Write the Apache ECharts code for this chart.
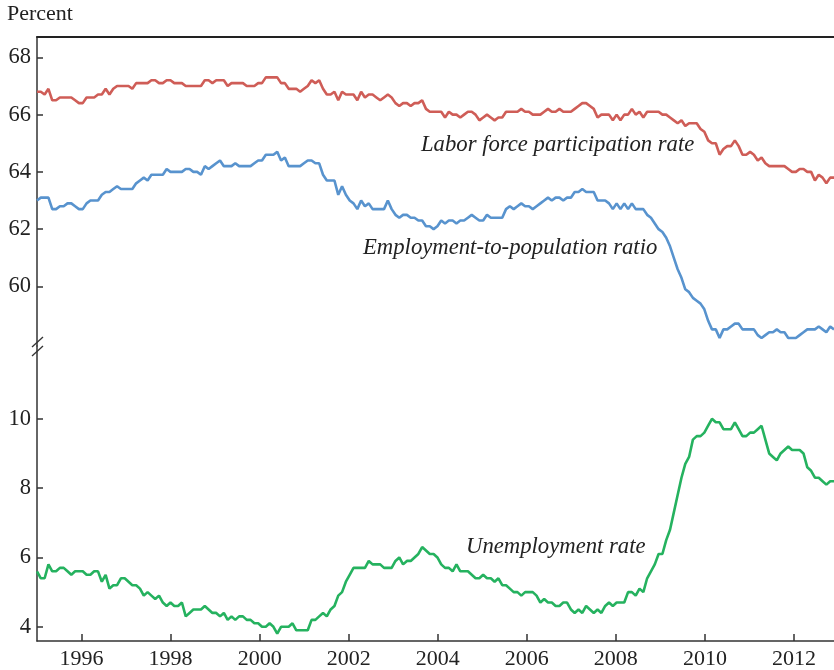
<!DOCTYPE html>
<html>
<head>
<meta charset="utf-8">
<script src="https://cdn.jsdelivr.net/npm/echarts@6/dist/echarts.min.js"></script>
<style>
  html, body { margin: 0; padding: 0; background: #fff; }
  #main { width: 834px; height: 670px; }
</style>
</head>
<body>
<div id="main"></div>
<script>
// monthly, Jan 1995 - Jun 2012
const months = [];
for (let y = 1995; y <= 2012; y++) {
  for (let m = 1; m <= 12; m++) {
    if (y === 2012 && m > 6) break;
    months.push(y + '-' + (m < 10 ? '0' + m : m));
  }
}

const laborForce = [
  66.8, 66.8, 66.7, 66.9, 66.5, 66.5, 66.6, 66.6, 66.6, 66.6, 66.5, 66.4,
  66.4, 66.6, 66.6, 66.6, 66.7, 66.7, 66.9, 66.7, 66.9, 67.0, 67.0, 67.0,
  67.0, 66.9, 67.1, 67.1, 67.1, 67.1, 67.2, 67.2, 67.1, 67.1, 67.2, 67.2,
  67.1, 67.1, 67.1, 67.0, 67.0, 67.0, 67.0, 67.0, 67.2, 67.2, 67.1, 67.2,
  67.2, 67.2, 67.0, 67.1, 67.1, 67.1, 67.1, 67.0, 67.0, 67.0, 67.1, 67.1,
  67.3, 67.3, 67.3, 67.3, 67.1, 67.1, 66.9, 66.9, 66.9, 66.8, 66.9, 67.0,
  67.2, 67.1, 67.2, 66.9, 66.7, 66.7, 66.8, 66.5, 66.8, 66.7, 66.7, 66.7,
  66.5, 66.8, 66.6, 66.7, 66.7, 66.6, 66.5, 66.6, 66.7, 66.6, 66.4, 66.3,
  66.4, 66.4, 66.3, 66.4, 66.4, 66.5, 66.2, 66.1, 66.1, 66.1, 66.1, 65.9,
  66.1, 66.0, 66.0, 65.9, 66.0, 66.1, 66.1, 66.0, 65.8, 65.9, 66.0, 65.9,
  65.8, 65.9, 65.9, 66.1, 66.1, 66.1, 66.1, 66.2, 66.1, 66.1, 66.0, 66.0,
  66.0, 66.1, 66.2, 66.1, 66.1, 66.2, 66.1, 66.1, 66.1, 66.2, 66.3, 66.4,
  66.4, 66.3, 66.2, 65.9, 66.0, 66.0, 66.0, 65.8, 66.0, 65.8, 66.0, 66.0,
  66.2, 66.0, 66.1, 65.9, 66.1, 66.1, 66.1, 66.1, 66.0, 66.0, 65.9, 65.8,
  65.7, 65.8, 65.6, 65.7, 65.7, 65.7, 65.5, 65.4, 65.1, 65.0, 65.0, 64.6,
  64.8, 64.9, 64.9, 65.1, 64.9, 64.6, 64.6, 64.7, 64.6, 64.4, 64.5, 64.3,
  64.2, 64.2, 64.2, 64.2, 64.2, 64.1, 64.0, 64.0, 64.1, 64.1, 64.0, 64.0,
  63.7, 63.9, 63.8, 63.6, 63.8, 63.8
];

const employmentRatio = [
  63.0, 63.1, 63.1, 63.1, 62.7, 62.7, 62.8, 62.8, 62.9, 62.9, 62.8, 62.7,
  62.7, 62.9, 63.0, 63.0, 63.0, 63.2, 63.3, 63.3, 63.4, 63.5, 63.4, 63.4,
  63.4, 63.4, 63.6, 63.7, 63.8, 63.7, 63.9, 63.9, 63.9, 63.9, 64.1, 64.0,
  64.0, 64.0, 64.0, 64.1, 64.1, 64.0, 64.0, 63.9, 64.2, 64.1, 64.2, 64.3,
  64.4, 64.2, 64.2, 64.2, 64.3, 64.2, 64.2, 64.2, 64.2, 64.3, 64.4, 64.4,
  64.6, 64.6, 64.6, 64.7, 64.4, 64.5, 64.2, 64.2, 64.2, 64.2, 64.3, 64.4,
  64.4, 64.3, 64.3, 63.9, 63.7, 63.7, 63.7, 63.2, 63.5, 63.2, 63.0, 62.9,
  62.7, 63.0, 62.8, 62.9, 62.7, 62.7, 62.7, 62.7, 63.0, 62.7, 62.5, 62.4,
  62.5, 62.5, 62.4, 62.4, 62.3, 62.3, 62.1, 62.1, 62.0, 62.1, 62.3, 62.2,
  62.3, 62.3, 62.2, 62.3, 62.3, 62.4, 62.5, 62.4, 62.3, 62.3, 62.5, 62.4,
  62.4, 62.4, 62.4, 62.7, 62.8, 62.7, 62.8, 62.9, 62.8, 62.8, 62.7, 62.8,
  62.9, 63.0, 63.1, 63.0, 63.1, 63.1, 63.0, 63.1, 63.1, 63.3, 63.3, 63.4,
  63.3, 63.3, 63.3, 63.0, 63.0, 63.0, 62.9, 62.7, 62.9, 62.7, 62.9, 62.7,
  62.9, 62.7, 62.7, 62.7, 62.5, 62.4, 62.2, 62.0, 61.9, 61.7, 61.4, 61.0,
  60.6, 60.3, 59.9, 59.8, 59.6, 59.5, 59.4, 59.2, 58.8, 58.5, 58.5, 58.2,
  58.5, 58.5, 58.6, 58.7, 58.7, 58.5, 58.5, 58.5, 58.5, 58.3, 58.2, 58.3,
  58.4, 58.4, 58.5, 58.4, 58.4, 58.2, 58.2, 58.2, 58.3, 58.4, 58.5, 58.5,
  58.5, 58.6, 58.5, 58.4, 58.6, 58.5
];

const unemployment = [
  5.6, 5.4, 5.4, 5.8, 5.6, 5.6, 5.7, 5.7, 5.6, 5.5, 5.6, 5.6,
  5.6, 5.5, 5.5, 5.6, 5.6, 5.3, 5.5, 5.1, 5.2, 5.2, 5.4, 5.4,
  5.3, 5.2, 5.2, 5.1, 4.9, 5.0, 4.9, 4.8, 4.9, 4.7, 4.6, 4.7,
  4.6, 4.6, 4.7, 4.3, 4.4, 4.5, 4.5, 4.5, 4.6, 4.5, 4.4, 4.4,
  4.3, 4.4, 4.2, 4.3, 4.2, 4.3, 4.3, 4.2, 4.2, 4.1, 4.1, 4.0,
  4.0, 4.1, 4.0, 3.8, 4.0, 4.0, 4.0, 4.1, 3.9, 3.9, 3.9, 3.9,
  4.2, 4.2, 4.3, 4.4, 4.3, 4.5, 4.6, 4.9, 5.0, 5.3, 5.5, 5.7,
  5.7, 5.7, 5.7, 5.9, 5.8, 5.8, 5.8, 5.7, 5.7, 5.7, 5.9, 6.0,
  5.8, 5.9, 5.9, 6.0, 6.1, 6.3, 6.2, 6.1, 6.1, 6.0, 5.8, 5.7,
  5.7, 5.6, 5.8, 5.6, 5.6, 5.6, 5.5, 5.4, 5.4, 5.5, 5.4, 5.4,
  5.3, 5.4, 5.2, 5.2, 5.1, 5.0, 5.0, 4.9, 5.0, 5.0, 5.0, 4.9,
  4.7, 4.8, 4.7, 4.7, 4.6, 4.6, 4.7, 4.7, 4.5, 4.4, 4.5, 4.4,
  4.6, 4.5, 4.4, 4.5, 4.4, 4.6, 4.7, 4.6, 4.7, 4.7, 4.7, 5.0,
  5.0, 4.9, 5.1, 5.0, 5.4, 5.6, 5.8, 6.1, 6.1, 6.5, 6.8, 7.3,
  7.8, 8.3, 8.7, 8.9, 9.4, 9.5, 9.5, 9.6, 9.8, 10.0, 9.9, 9.9,
  9.7, 9.7, 9.7, 9.9, 9.7, 9.5, 9.5, 9.6, 9.6, 9.7, 9.8, 9.4,
  9.0, 8.9, 8.8, 9.0, 9.1, 9.2, 9.1, 9.1, 9.1, 9.0, 8.6, 8.5,
  8.3, 8.3, 8.2, 8.1, 8.2, 8.2
];

const yearTicks = [1996, 1998, 2000, 2002, 2004, 2006, 2008, 2010, 2012];
const topTicks = [60, 62, 64, 66, 68];
const bottomTicks = [4, 6, 8, 10];

const FONT = '"Liberation Serif", "DejaVu Serif", serif';
const AXIS_COLOR = '#333';

let myChart = echarts.init(document.getElementById('main'));

let yAxisBase = function (grid, min, max, ticks) {
  return {
    gridIndex: grid,
    type: 'value',
    min: min,
    max: max,
    splitLine: { show: false },
    axisLine: { show: true, lineStyle: { color: AXIS_COLOR, width: 1.5 } },
    axisTick: { show: true, inside: true, length: 6, customValues: ticks,
      lineStyle: { color: AXIS_COLOR, width: 1.5 } },
    axisLabel: { customValues: ticks, margin: 6, color: '#222',
      fontFamily: FONT, fontSize: 22.5, formatter: v => String(v) }
  };
};

myChart.setOption({
  animation: false,
  grid: [
    { left: 37, right: 0, top: 37, height: 309 },
    { left: 37, right: 0, top: 346, height: 295 }
  ],
  xAxis: [
    {
      gridIndex: 0, type: 'category', data: months, boundaryGap: false,
      position: 'top',
      axisLine: { onZero: false, lineStyle: { color: '#222', width: 2 } },
      axisTick: { show: false }, axisLabel: { show: false }
    },
    {
      gridIndex: 1, type: 'category', data: months, boundaryGap: false,
      show: false
    },
    {
      gridIndex: 1, type: 'value', min: 1995, max: 2012.9, position: 'bottom',
      splitLine: { show: false },
      axisLine: { onZero: false, lineStyle: { color: AXIS_COLOR, width: 1.5 } },
      axisTick: { inside: true, length: 7, customValues: yearTicks,
        lineStyle: { color: AXIS_COLOR, width: 1.5 } },
      axisLabel: { customValues: yearTicks, margin: 7, color: '#222',
        fontFamily: FONT, fontSize: 22, formatter: v => String(v) }
    }
  ],
  yAxis: [
    yAxisBase(0, 57.92, 68.71, topTicks),
    yAxisBase(1, 3.59, 12.1, bottomTicks)
  ],
  series: [
    {
      name: 'Labor force participation rate', type: 'line',
      xAxisIndex: 0, yAxisIndex: 0, data: laborForce,
      showSymbol: false, lineStyle: { color: '#cf5d57', width: 2.6 }
    },
    {
      name: 'Employment-to-population ratio', type: 'line',
      xAxisIndex: 0, yAxisIndex: 0, data: employmentRatio,
      showSymbol: false, lineStyle: { color: '#5893ce', width: 2.6 }
    },
    {
      name: 'Unemployment rate', type: 'line',
      xAxisIndex: 1, yAxisIndex: 1, data: unemployment,
      showSymbol: false, lineStyle: { color: '#25b25f', width: 2.6 }
    }
  ],
  graphic: [
    { type: 'text', left: 7, top: 3,
      style: { text: 'Percent', font: '22px ' + FONT, fill: '#222' } },
    // axis break marks
    { type: 'line', shape: { x1: 32, y1: 347, x2: 43, y2: 337 },
      style: { stroke: AXIS_COLOR, lineWidth: 1.3 } },
    { type: 'line', shape: { x1: 32, y1: 356, x2: 43, y2: 346 },
      style: { stroke: AXIS_COLOR, lineWidth: 1.3 } },
    { type: 'text', x: 421, y: 145,
      style: { text: 'Labor force participation rate', font: 'italic 22.7px ' + FONT,
        fill: '#222', textVerticalAlign: 'middle' } },
    { type: 'text', x: 363, y: 248,
      style: { text: 'Employment-to-population ratio', font: 'italic 22.7px ' + FONT,
        fill: '#222', textVerticalAlign: 'middle' } },
    { type: 'text', x: 466, y: 547,
      style: { text: 'Unemployment rate', font: 'italic 22.7px ' + FONT,
        fill: '#222', textVerticalAlign: 'middle' } }
  ]
});
</script>
</body>
</html>
